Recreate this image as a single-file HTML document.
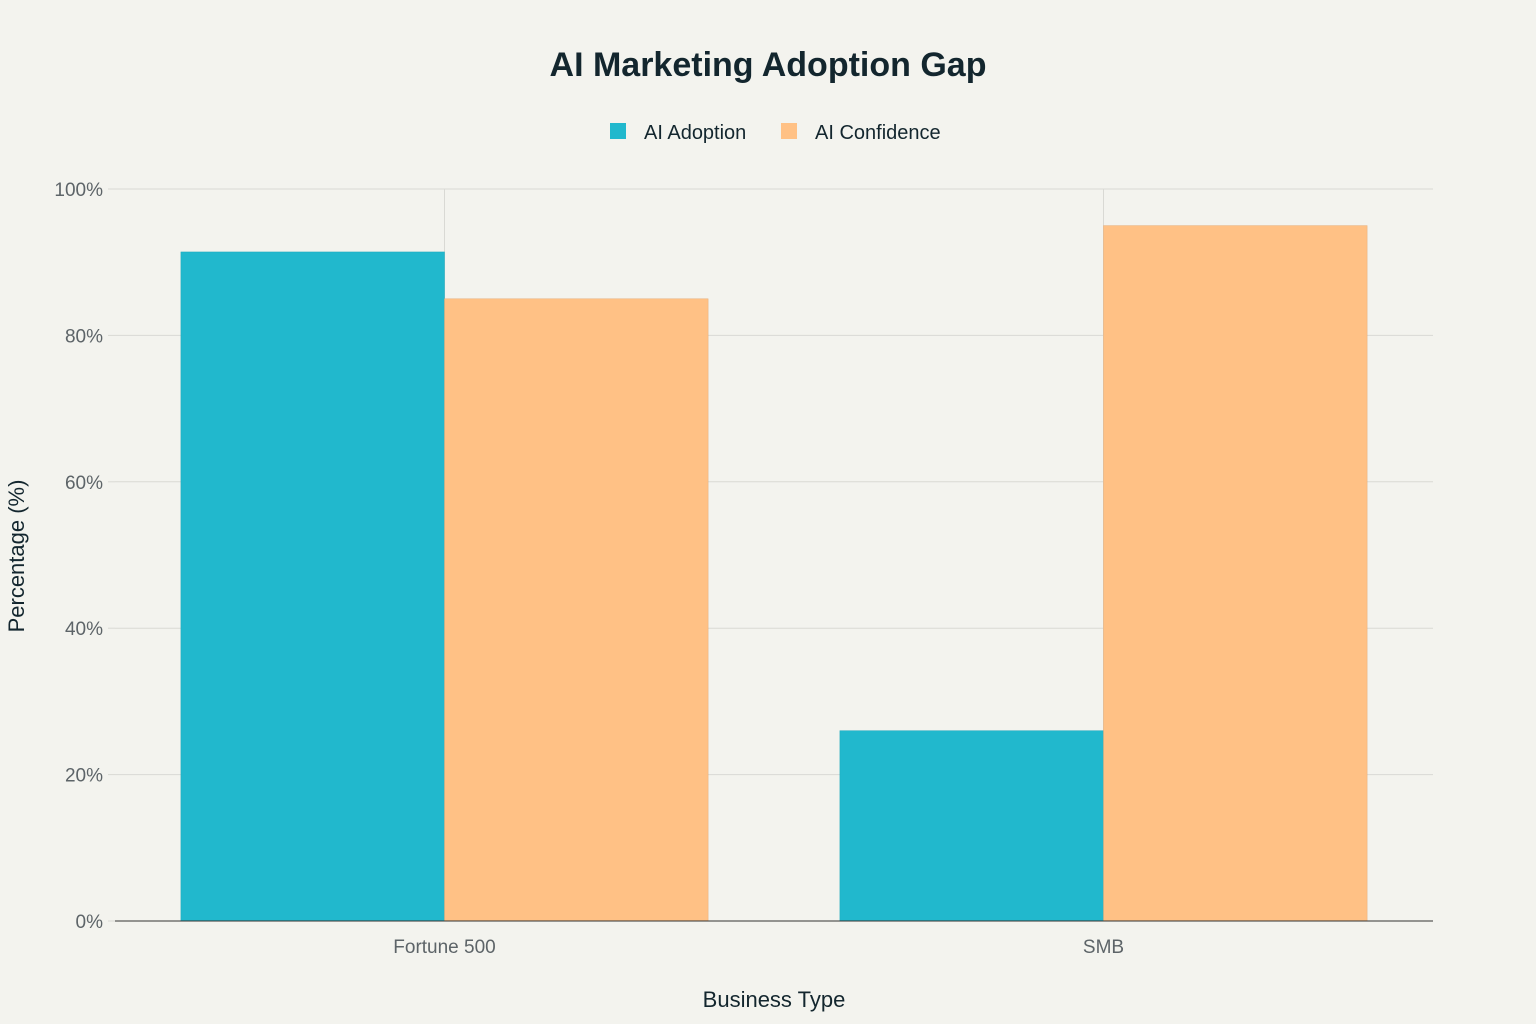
<!DOCTYPE html>
<html><head><meta charset="utf-8"><style>
body{margin:0;background:#f3f3ee;font-family:"Liberation Sans",sans-serif;}
svg{display:block}
</style></head><body>
<svg id="chart" width="1536" height="1024">
<rect width="1536" height="1024" fill="#f3f3ee"/>
<text x="768" y="76" text-anchor="middle" font-size="34" font-weight="bold" fill="#13262e">AI Marketing Adoption Gap</text>
<g>
<g><rect x="610" y="123" width="16" height="16" fill="#21b8cd"/><text x="644" y="139" font-size="20" fill="#13262e">AI Adoption</text></g>
<g><rect x="781" y="123" width="16" height="16" fill="#ffc185"/><text x="815" y="139" font-size="20" fill="#13262e">AI Confidence</text></g>
</g>
<g id="grid"></g>
<g id="bars"></g>
<g id="axes"></g>
<text x="774" y="1007" text-anchor="middle" font-size="22" fill="#13262e">Business Type</text>
<text transform="translate(24,556) rotate(-90)" text-anchor="middle" font-size="22" fill="#13262e">Percentage (%)</text>
</svg>
<script>
const categories = ["Fortune 500", "SMB"];
const adoption = [91.4, 26];
const confidence = [85, 95];
const yTicks = [0, 20, 40, 60, 80, 100];
const ns = "http://www.w3.org/2000/svg";
const L = 115, R = 1433, T = 189, B = 921;
const y = v => B - (v / 100) * (B - T);
const catW = (R - L) / categories.length;
const xc = i => L + catW * (i + 0.5);
function mk(tag, attrs, parent) { const e = document.createElementNS(ns, tag); for (const k in attrs) e.setAttribute(k, attrs[k]); parent.appendChild(e); return e; }
const grid = document.getElementById('grid'), bars = document.getElementById('bars'), axes = document.getElementById('axes');
yTicks.forEach(t => {
  if (t > 0) { const g = mk('line', {x1: L, x2: R, y1: y(t), y2: y(t), stroke: '#d9d9d4', 'stroke-width': 1}, grid);
    
     }
  mk('line', {x1: 108, x2: 115, y1: y(t), y2: y(t), stroke: '#d9d9d4'}, axes);
  const tx = mk('text', {x: 103, y: y(t) + 7, 'text-anchor': 'end', 'font-size': 19, fill: '#5d6468'}, axes);
  tx.textContent = t + '%';
  
  
});
categories.forEach((c, i) => {
  const vl = mk('line', {x1: xc(i), x2: xc(i), y1: T, y2: B, stroke: '#d9d9d4'}, grid);
  
  
  const bw = catW * 0.4;
  const b1 = mk('rect', {x: xc(i) - bw, y: y(adoption[i]), width: bw, height: B - y(adoption[i]), fill: '#21b8cd', stroke: '#1fa9bc', 'stroke-width': 0.5}, bars);
  
  
  const b2 = mk('rect', {x: xc(i), y: y(confidence[i]), width: bw, height: B - y(confidence[i]), fill: '#ffc185', stroke: '#e6ad78', 'stroke-width': 0.5}, bars);
  
  
  const tl = mk('text', {x: xc(i), y: 953, 'text-anchor': 'middle', 'font-size': 19, fill: '#5d6468'}, axes);
  tl.textContent = c;
  
  
});
const ax = mk('line', {x1: L, x2: R, y1: B, y2: B, stroke: '#333', 'stroke-width': 1}, axes);


</script>
</body></html>
